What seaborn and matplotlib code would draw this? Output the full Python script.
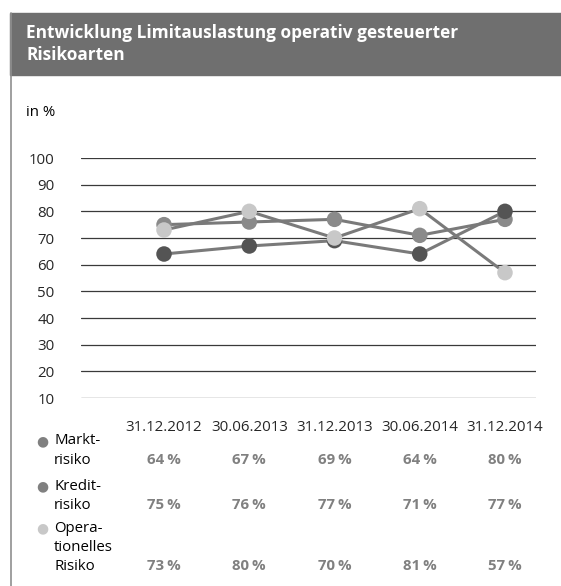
import pandas as pd
import matplotlib
matplotlib.use('Agg')
import matplotlib.pyplot as plt
import matplotlib.transforms as mtransforms
from matplotlib.patches import Rectangle
from matplotlib.lines import Line2D
import seaborn as sns

dates = ['31.12.2012', '30.06.2013', '31.12.2013', '30.06.2014', '31.12.2014']
markt = [64, 67, 69, 64, 80]
kredit = [75, 76, 77, 71, 77]
oprisk = [73, 80, 70, 81, 57]
series_names = ['Kredit', 'Markt', 'Oper']
row_labels = [['Markt-', 'risiko'], ['Kredit-', 'risiko'], ['Opera-', 'tionelles', 'Risiko']]
yticks = [10, 20, 30, 40, 50, 60, 70, 80, 90, 100]

df = pd.DataFrame({
    'pos': list(range(5)) * 3,
    'wert': kredit + markt + oprisk,
    'serie': ['Kredit'] * 5 + ['Markt'] * 5 + ['Oper'] * 5,
})

sns.set_style('white')
plt.rcParams['font.family'] = ['Open Sans', 'DejaVu Sans']

W, H = 561, 586
fig = plt.figure(figsize=(W / 100, H / 100), dpi=100)

def fx(px):
    return px / W

def fy(py):
    return 1 - py / H

FS = 10.8

# header band and left border
fig.patches.append(Rectangle((fx(10), fy(75)), 1 - fx(10), fy(13) - fy(75),
                             transform=fig.transFigure, color='#6f6f6f', zorder=0))
fig.lines.append(Line2D([fx(10.5), fx(10.5)], [0, fy(13)], transform=fig.transFigure,
                        color='#8f8f8f', lw=1.2))
fig.text(fx(26), fy(33), 'Entwicklung Limitauslastung operativ gesteuerter',
         color='white', fontsize=12.4, fontweight='bold', va='center', ha='left')
fig.text(fx(26), fy(55), 'Risikoarten', color='white', fontsize=12.4,
         fontweight='bold', va='center', ha='left')
fig.text(fx(26), fy(112), 'in %', color='black', fontsize=FS, va='center', ha='left')

ax = fig.add_axes([fx(81), fy(398), fx(536) - fx(81), fy(158) - fy(398)])

palette = {'Markt': '#545454', 'Kredit': '#8a8a8a', 'Oper': '#c8c8c8'}
for i, name in enumerate(series_names):
    sub = df[df['serie'] == name]
    sns.lineplot(data=sub, x='pos', y='wert', color='#7a7a7a', lw=2.2, ax=ax,
                 zorder=3 + 2 * i, legend=False)
    sns.scatterplot(data=sub, x='pos', y='wert', color=palette[name], s=125,
                    edgecolor='none', ax=ax, zorder=4 + 2 * i, legend=False)

ax.set_xlim(-0.974, 4.364)
ax.set_ylim(10, 100)
ax.set_yticks(yticks)
ax.set_yticklabels([str(v) for v in yticks], fontsize=FS)
ax.set_xticks(range(5))
ax.set_xticklabels(dates, fontsize=FS)
ax.tick_params(axis='y', length=0, pad=19)
ax.tick_params(axis='x', length=0, pad=16)
for v in yticks:
    ax.axhline(v, color='#3a3a3a', lw=0.9, zorder=1)
for s in ax.spines.values():
    s.set_visible(False)
ax.set_xlabel('')
ax.set_ylabel('')

# table below the chart
rows = [markt, kredit, oprisk]
dot_colors = ['#808080', '#808080', '#c8c8c8']
row_tops = [441, 486, 528]
line_gap = 19.2
trans = mtransforms.blended_transform_factory(ax.transData, fig.transFigure)
for r, vals in enumerate(rows):
    top = row_tops[r]
    fig.text(fx(42), fy(top), '\u25cf', color=dot_colors[r], fontsize=10,
             ha='center', va='center', family='DejaVu Sans')
    for k, line in enumerate(row_labels[r]):
        fig.text(fx(54), fy(top + k * line_gap), line, fontsize=FS,
                 ha='left', va='center', color='black')
    last = top + (len(row_labels[r]) - 1) * line_gap
    for i, v in enumerate(vals):
        ax.text(i, fy(last), f'{v}\u2009%', transform=trans, fontsize=FS,
                fontweight='bold', color='#808080', ha='center', va='center')

fig.savefig('out.png', dpi=100)
